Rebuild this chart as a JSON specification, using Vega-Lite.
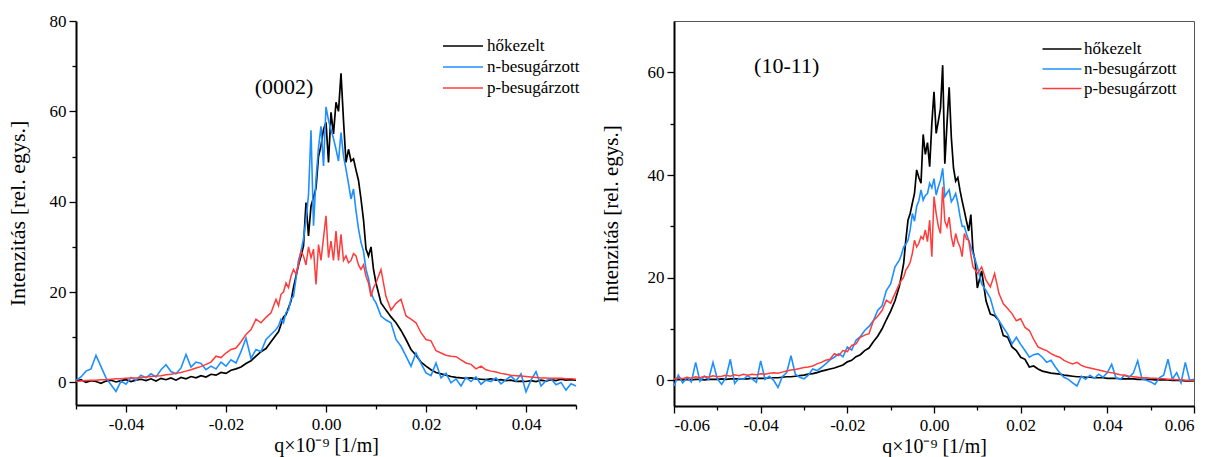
{
"$schema": "https://vega.github.io/schema/vega-lite/v6.json",
"background": "white",
"padding": {"left": 6, "top": 12, "right": 0, "bottom": 0},
"spacing": 19,
"config": {
 "view": {"stroke": null},
 "font": "Liberation Serif",
 "axis": {"labelFont": "Liberation Serif", "titleFont": "Liberation Serif", "labelFontSize": 17, "titleFontSize": 21, "titleFontWeight": "normal", "domain": true, "ticks": true, "domainColor": "#000000", "domainWidth": 2, "tickColor": "#000000", "tickWidth": 1.3, "tickOpacity": 1, "labelColor": "#000000", "titleColor": "#000000", "grid": false},
 "legend": {"labelFont": "Liberation Serif", "labelFontSize": 17, "labelColor": "black", "symbolType": "M-2,0H2", "symbolSize": 400, "symbolStrokeWidth": 1.7, "title": null, "padding": 0, "rowPadding": 2, "labelOffset": 13}
},
"resolve": {"scale": {"color": "independent", "strokeWidth": "independent"}, "legend": {"color": "independent"}},
"datasets": {
"L": [
{"x":-0.050,"h":0.3,"n":0.5,"p":0.2},{"x":-0.049,"h":0.6,"n":1.2,"p":0.3},{"x":-0.048,"h":0.0,"n":2.5,"p":0.4},{"x":-0.047,"h":0.4,"n":3.0,"p":0.5},{"x":-0.046,"h":0.2,"n":6.0,"p":0.5},{"x":-0.045,"h":-0.2,"n":3.5,"p":0.6},{"x":-0.044,"h":0.3,"n":1.0,"p":0.6},{"x":-0.043,"h":0.5,"n":-0.5,"p":0.7},{"x":-0.042,"h":0.1,"n":-2.0,"p":0.8},{"x":-0.041,"h":0.4,"n":0.3,"p":0.8},
{"x":-0.040,"h":0.6,"n":-0.4,"p":0.9},{"x":-0.039,"h":0.2,"n":1.1,"p":1.0},{"x":-0.038,"h":0.5,"n":0.5,"p":1.0},{"x":-0.037,"h":0.7,"n":1.6,"p":1.1},{"x":-0.036,"h":0.4,"n":1.0,"p":1.2},{"x":-0.035,"h":0.8,"n":1.9,"p":1.3},{"x":-0.034,"h":0.3,"n":1.2,"p":1.4},{"x":-0.033,"h":0.9,"n":2.8,"p":1.5},{"x":-0.032,"h":0.6,"n":3.9,"p":1.7},{"x":-0.031,"h":1.0,"n":2.4,"p":1.8},
{"x":-0.030,"h":0.5,"n":1.9,"p":2.0},{"x":-0.029,"h":1.1,"n":3.2,"p":2.2},{"x":-0.028,"h":0.8,"n":6.2,"p":2.5},{"x":-0.027,"h":1.3,"n":3.4,"p":2.8},{"x":-0.026,"h":1.0,"n":4.5,"p":3.2},{"x":-0.025,"h":1.5,"n":4.2,"p":3.5},{"x":-0.024,"h":1.2,"n":2.8,"p":4.0},{"x":-0.023,"h":1.8,"n":3.6,"p":4.5},{"x":-0.022,"h":1.6,"n":3.0,"p":5.8},{"x":-0.021,"h":2.2,"n":4.5,"p":5.5},
{"x":-0.020,"h":2.0,"n":3.6,"p":6.5},{"x":-0.019,"h":2.7,"n":5.0,"p":7.3},{"x":-0.018,"h":3.0,"n":4.3,"p":7.6},{"x":-0.017,"h":3.4,"n":6.8,"p":9.0},{"x":-0.016,"h":4.2,"n":9.8,"p":10.6},{"x":-0.015,"h":4.8,"n":5.3,"p":11.7},{"x":-0.014,"h":5.8,"n":7.3,"p":14.0},{"x":-0.013,"h":6.8,"n":6.8,"p":13.2},{"x":-0.012,"h":7.5,"n":9.5,"p":14.4},{"x":-0.011,"h":9.0,"n":10.6,"p":15.4},
{"x":-0.010,"h":10.5,"n":11.7,"p":18.4},{"x":-0.0095,"h":11.2,"n":12.5,"p":17.0},{"x":-0.0090,"h":12.8,"n":14.0,"p":19.5},{"x":-0.0085,"h":14.5,"n":13.2,"p":20.0},{"x":-0.0080,"h":15.0,"n":15.5,"p":22.0},{"x":-0.0075,"h":16.5,"n":16.0,"p":21.0},{"x":-0.0070,"h":18.0,"n":18.5,"p":23.5},{"x":-0.0065,"h":21.0,"n":19.0,"p":25.0},{"x":-0.0060,"h":23.5,"n":23.0,"p":24.0},{"x":-0.0055,"h":26.0,"n":27.0,"p":26.0},
{"x":-0.0050,"h":28.0,"n":29.0,"p":29.0},{"x":-0.0045,"h":30.2,"n":31.8,"p":28.0},{"x":-0.0040,"h":39.8,"n":36.0,"p":26.0},{"x":-0.0035,"h":32.4,"n":41.5,"p":30.0},{"x":-0.0030,"h":39.0,"n":55.8,"p":27.6},{"x":-0.0025,"h":41.0,"n":34.7,"p":29.5},{"x":-0.0020,"h":43.0,"n":45.0,"p":21.7},{"x":-0.0015,"h":50.0,"n":52.0,"p":30.5},{"x":-0.0010,"h":52.4,"n":56.7,"p":27.0},{"x":-0.0005,"h":56.0,"n":47.9,"p":32.0},
{"x":0.0000,"h":57.6,"n":61.0,"p":36.9},{"x":0.0005,"h":48.7,"n":58.0,"p":27.6},{"x":0.0010,"h":59.8,"n":56.0,"p":31.3},{"x":0.0015,"h":55.0,"n":54.0,"p":27.0},{"x":0.0020,"h":62.0,"n":51.6,"p":33.5},{"x":0.0025,"h":60.0,"n":49.0,"p":27.0},{"x":0.0030,"h":68.4,"n":55.3,"p":32.8},{"x":0.0035,"h":58.0,"n":50.1,"p":27.0},{"x":0.0040,"h":48.7,"n":47.2,"p":28.0},{"x":0.0045,"h":51.6,"n":44.0,"p":26.5},
{"x":0.0050,"h":49.0,"n":40.6,"p":27.0},{"x":0.0055,"h":49.5,"n":42.8,"p":28.5},{"x":0.0060,"h":47.0,"n":38.0,"p":28.0},{"x":0.0065,"h":44.7,"n":34.0,"p":26.0},{"x":0.0070,"h":40.6,"n":31.0,"p":25.0},{"x":0.0075,"h":36.0,"n":29.0,"p":26.0},{"x":0.0080,"h":29.5,"n":25.0,"p":23.5},{"x":0.0085,"h":28.0,"n":23.0,"p":22.0},{"x":0.0090,"h":30.0,"n":19.9,"p":19.0},{"x":0.0095,"h":25.0,"n":18.5,"p":21.0},
{"x":0.010,"h":22.0,"n":17.6,"p":22.0},{"x":0.011,"h":17.6,"n":14.7,"p":25.0},{"x":0.012,"h":16.0,"n":13.8,"p":19.0},{"x":0.013,"h":14.5,"n":13.2,"p":16.0},{"x":0.014,"h":13.2,"n":9.5,"p":17.5},{"x":0.015,"h":11.5,"n":8.0,"p":18.4},{"x":0.016,"h":9.5,"n":5.8,"p":14.7},{"x":0.017,"h":7.3,"n":3.6,"p":14.0},{"x":0.018,"h":6.0,"n":6.5,"p":13.2},{"x":0.019,"h":4.5,"n":4.2,"p":11.0},
{"x":0.020,"h":3.6,"n":2.1,"p":9.5},{"x":0.021,"h":2.8,"n":1.5,"p":9.2},{"x":0.022,"h":2.2,"n":4.3,"p":7.0},{"x":0.023,"h":1.9,"n":1.0,"p":6.5},{"x":0.024,"h":1.6,"n":2.0,"p":6.0},{"x":0.025,"h":1.3,"n":-0.1,"p":5.8},{"x":0.026,"h":1.1,"n":0.8,"p":5.7},{"x":0.027,"h":1.0,"n":-0.8,"p":5.0},{"x":0.028,"h":0.9,"n":1.1,"p":4.3},{"x":0.029,"h":1.0,"n":0.2,"p":4.0},
{"x":0.030,"h":0.8,"n":1.2,"p":3.0},{"x":0.031,"h":0.7,"n":-0.4,"p":3.6},{"x":0.032,"h":0.6,"n":0.5,"p":2.8},{"x":0.033,"h":0.8,"n":0.2,"p":2.5},{"x":0.034,"h":0.5,"n":1.0,"p":2.3},{"x":0.035,"h":0.6,"n":-0.3,"p":2.0},{"x":0.036,"h":0.4,"n":0.6,"p":1.8},{"x":0.037,"h":0.5,"n":1.4,"p":1.6},{"x":0.038,"h":0.2,"n":0.3,"p":1.5},{"x":0.039,"h":0.3,"n":1.9,"p":1.4},
{"x":0.040,"h":0.2,"n":-2.1,"p":1.3},{"x":0.041,"h":0.4,"n":0.5,"p":1.2},{"x":0.042,"h":0.2,"n":2.4,"p":1.1},{"x":0.043,"h":0.5,"n":-0.8,"p":1.0},{"x":0.044,"h":0.3,"n":0.4,"p":1.0},{"x":0.045,"h":0.6,"n":0.8,"p":0.9},{"x":0.046,"h":0.4,"n":-0.5,"p":0.9},{"x":0.047,"h":0.7,"n":0.0,"p":0.9},{"x":0.048,"h":0.5,"n":-1.7,"p":0.8},{"x":0.049,"h":0.6,"n":-0.3,"p":0.8},
{"x":0.050,"h":0.5,"n":-0.8,"p":0.7}
],
"R": [
{"x":-0.060,"h":0.1,"n":-1.1,"p":0.2},{"x":-0.059,"h":0.2,"n":1.0,"p":0.5},{"x":-0.058,"h":0.1,"n":-0.5,"p":0.3},{"x":-0.057,"h":0.2,"n":0.5,"p":0.6},{"x":-0.056,"h":0.1,"n":-0.3,"p":0.4},{"x":-0.055,"h":0.2,"n":3.5,"p":0.7},{"x":-0.054,"h":0.2,"n":-0.2,"p":0.5},{"x":-0.053,"h":0.1,"n":0.8,"p":0.8},{"x":-0.052,"h":0.2,"n":0.2,"p":0.6},{"x":-0.051,"h":0.2,"n":3.5,"p":0.9},
{"x":-0.050,"h":0.2,"n":0.3,"p":0.7},{"x":-0.049,"h":0.3,"n":-0.8,"p":0.8},{"x":-0.048,"h":0.2,"n":0.6,"p":1.0},{"x":-0.047,"h":0.3,"n":4.1,"p":0.8},{"x":-0.046,"h":0.3,"n":-0.6,"p":1.1},{"x":-0.045,"h":0.3,"n":0.4,"p":0.9},{"x":-0.044,"h":0.3,"n":0.2,"p":1.2},{"x":-0.043,"h":0.3,"n":0.9,"p":1.0},{"x":-0.042,"h":0.4,"n":0.3,"p":1.2},{"x":-0.041,"h":0.4,"n":-0.4,"p":1.1},
{"x":-0.040,"h":0.4,"n":3.8,"p":1.3},{"x":-0.039,"h":0.4,"n":0.2,"p":1.2},{"x":-0.038,"h":0.5,"n":0.8,"p":1.4},{"x":-0.037,"h":0.5,"n":0.0,"p":1.5},{"x":-0.036,"h":0.5,"n":-1.4,"p":1.4},{"x":-0.035,"h":0.6,"n":0.7,"p":1.6},{"x":-0.034,"h":0.7,"n":1.5,"p":1.8},{"x":-0.033,"h":0.7,"n":4.8,"p":2.0},{"x":-0.032,"h":0.8,"n":1.2,"p":2.1},{"x":-0.031,"h":0.9,"n":0.6,"p":2.3},
{"x":-0.030,"h":1.0,"n":0.3,"p":2.5},{"x":-0.029,"h":1.2,"n":1.0,"p":2.6},{"x":-0.028,"h":1.3,"n":2.2,"p":2.8},{"x":-0.027,"h":1.5,"n":1.9,"p":3.2},{"x":-0.026,"h":1.8,"n":2.5,"p":3.5},{"x":-0.025,"h":2.0,"n":3.2,"p":3.9},{"x":-0.024,"h":2.2,"n":4.0,"p":4.1},{"x":-0.023,"h":2.4,"n":4.5,"p":5.2},{"x":-0.022,"h":2.7,"n":5.2,"p":4.8},{"x":-0.021,"h":3.0,"n":4.6,"p":5.8},
{"x":-0.020,"h":3.6,"n":6.5,"p":5.6},{"x":-0.019,"h":3.9,"n":5.9,"p":6.8},{"x":-0.018,"h":4.6,"n":7.8,"p":7.1},{"x":-0.017,"h":5.0,"n":8.5,"p":8.4},{"x":-0.016,"h":5.8,"n":9.7,"p":8.8},{"x":-0.015,"h":6.3,"n":10.5,"p":9.1},{"x":-0.014,"h":7.5,"n":11.6,"p":11.6},{"x":-0.013,"h":8.6,"n":13.6,"p":12.5},{"x":-0.012,"h":10.0,"n":14.5,"p":13.6},{"x":-0.011,"h":11.8,"n":17.5,"p":15.6},
{"x":-0.010,"h":13.5,"n":18.8,"p":15.0},{"x":-0.009,"h":15.5,"n":22.1,"p":16.9},{"x":-0.008,"h":18.3,"n":23.4,"p":18.8},{"x":-0.0075,"h":20.5,"n":24.5,"p":19.5},{"x":-0.0070,"h":22.8,"n":26.0,"p":20.1},{"x":-0.0065,"h":27.3,"n":26.5,"p":21.5},{"x":-0.0060,"h":31.2,"n":27.3,"p":22.1},{"x":-0.0055,"h":32.5,"n":29.3,"p":23.0},{"x":-0.0050,"h":34.5,"n":32.5,"p":24.7},{"x":-0.0045,"h":36.4,"n":31.0,"p":27.3},
{"x":-0.0040,"h":41.0,"n":33.9,"p":26.0},{"x":-0.0035,"h":39.5,"n":35.0,"p":26.7},{"x":-0.0030,"h":38.4,"n":37.1,"p":28.0},{"x":-0.0025,"h":47.9,"n":35.1,"p":27.5},{"x":-0.0020,"h":44.0,"n":36.0,"p":29.3},{"x":-0.0015,"h":46.3,"n":36.4,"p":27.0},{"x":-0.0010,"h":41.6,"n":38.4,"p":31.2},{"x":-0.0005,"h":50.0,"n":37.5,"p":24.1},{"x":0.0000,"h":56.2,"n":39.3,"p":35.8},{"x":0.0005,"h":48.1,"n":36.1,"p":32.5},
{"x":0.0010,"h":50.5,"n":37.7,"p":30.0},{"x":0.0015,"h":53.0,"n":39.0,"p":28.6},{"x":0.0020,"h":61.4,"n":41.3,"p":37.7},{"x":0.0025,"h":42.2,"n":35.8,"p":31.0},{"x":0.0030,"h":50.0,"n":36.5,"p":29.9},{"x":0.0035,"h":57.1,"n":37.1,"p":31.8},{"x":0.0040,"h":47.3,"n":34.8,"p":28.0},{"x":0.0045,"h":41.4,"n":35.5,"p":26.0},{"x":0.0050,"h":38.8,"n":36.4,"p":28.6},{"x":0.0055,"h":39.5,"n":34.5,"p":27.0},
{"x":0.0060,"h":37.0,"n":32.0,"p":26.0},{"x":0.0065,"h":34.9,"n":30.0,"p":24.1},{"x":0.0070,"h":33.0,"n":30.0,"p":28.6},{"x":0.0075,"h":31.0,"n":28.5,"p":27.5},{"x":0.0080,"h":29.1,"n":27.3,"p":27.3},{"x":0.0085,"h":32.3,"n":26.0,"p":24.5},{"x":0.0090,"h":25.2,"n":24.7,"p":22.1},{"x":0.0095,"h":23.2,"n":23.5,"p":21.5},{"x":0.010,"h":18.0,"n":22.1,"p":20.8},{"x":0.011,"h":21.3,"n":18.8,"p":22.1},
{"x":0.012,"h":15.5,"n":17.5,"p":19.5},{"x":0.013,"h":12.9,"n":16.0,"p":18.2},{"x":0.014,"h":12.6,"n":13.0,"p":20.8},{"x":0.015,"h":11.6,"n":11.6,"p":16.9},{"x":0.016,"h":8.7,"n":10.3,"p":14.9},{"x":0.017,"h":8.4,"n":9.0,"p":14.0},{"x":0.018,"h":6.5,"n":7.1,"p":13.0},{"x":0.019,"h":5.8,"n":8.4,"p":11.6},{"x":0.020,"h":4.5,"n":7.0,"p":12.0},{"x":0.021,"h":4.1,"n":5.8,"p":10.3},
{"x":0.022,"h":2.6,"n":4.5,"p":9.7},{"x":0.023,"h":2.8,"n":5.0,"p":8.0},{"x":0.024,"h":2.2,"n":5.2,"p":6.5},{"x":0.025,"h":1.8,"n":4.5,"p":6.1},{"x":0.026,"h":1.6,"n":3.5,"p":5.8},{"x":0.027,"h":1.4,"n":3.9,"p":5.2},{"x":0.028,"h":1.3,"n":2.6,"p":4.8},{"x":0.029,"h":1.2,"n":1.5,"p":4.5},{"x":0.030,"h":1.0,"n":0.6,"p":3.9},{"x":0.031,"h":0.9,"n":0.2,"p":3.5},
{"x":0.032,"h":0.8,"n":-0.5,"p":3.2},{"x":0.033,"h":0.7,"n":-1.1,"p":3.5},{"x":0.034,"h":0.7,"n":0.8,"p":2.9},{"x":0.035,"h":0.6,"n":0.2,"p":2.6},{"x":0.036,"h":0.6,"n":1.0,"p":2.4},{"x":0.037,"h":0.5,"n":0.4,"p":2.2},{"x":0.038,"h":0.5,"n":1.2,"p":2.0},{"x":0.039,"h":0.5,"n":0.6,"p":1.8},{"x":0.040,"h":0.4,"n":1.5,"p":1.6},{"x":0.041,"h":0.4,"n":3.1,"p":1.5},
{"x":0.042,"h":0.4,"n":0.5,"p":1.3},{"x":0.043,"h":0.3,"n":0.2,"p":1.1},{"x":0.044,"h":0.3,"n":1.0,"p":1.0},{"x":0.045,"h":0.3,"n":0.6,"p":0.8},{"x":0.046,"h":0.3,"n":1.4,"p":0.7},{"x":0.047,"h":0.2,"n":3.8,"p":0.6},{"x":0.048,"h":0.2,"n":0.3,"p":0.5},{"x":0.049,"h":0.2,"n":0.0,"p":0.5},{"x":0.050,"h":0.2,"n":-0.3,"p":0.4},{"x":0.051,"h":0.1,"n":-0.8,"p":0.4},
{"x":0.052,"h":0.1,"n":0.5,"p":0.3},{"x":0.053,"h":0.1,"n":1.0,"p":0.3},{"x":0.054,"h":0.1,"n":4.1,"p":0.2},{"x":0.055,"h":0.0,"n":0.2,"p":0.2},{"x":0.056,"h":0.0,"n":1.5,"p":0.1},{"x":0.057,"h":0.0,"n":-0.5,"p":0.1},{"x":0.058,"h":-0.1,"n":3.5,"p":0.0},{"x":0.059,"h":-0.1,"n":0.0,"p":0.0},{"x":0.060,"h":-0.1,"n":0.2,"p":-0.1}
]
},
"hconcat": [
{
 "width": 500, "height": 384,
 "resolve": {"axis": {"x": "independent", "y": "independent"}},
 "layer": [
  {
   "data": {"name": "L"},
   "transform": [{"fold": ["h", "n", "p"], "as": ["s", "v"]}],
   "mark": {"type": "line"},
   "encoding": {
    "x": {"field": "x", "type": "quantitative", "scale": {"domain": [-0.05, 0.05], "nice": false, "zero": false},
      "axis": {"orient": "bottom", "title": "q×10⁻⁹ [1/m]", "values": [-0.04,-0.02,0,0.02,0.04], "format": ".2f", "labelExpr": "replace(datum.label, '−', '-')", "ticks": true, "tickSize": 7, "tickColor": "#000000", "tickWidth": 1.3, "labelFont": "Liberation Serif", "titleFont": "Liberation Serif", "labelPadding": 4, "titlePadding": 3, "titleFontSize": 20}},
    "y": {"field": "v", "type": "quantitative", "scale": {"domain": [-5, 80], "nice": false, "zero": false},
      "axis": {"orient": "left", "title": "Intenzitás [rel. egys.]", "values": [0,20,40,60,80], "ticks": true, "tickSize": 7, "tickColor": "#000000", "tickWidth": 1.3, "labelFont": "Liberation Serif", "titleFont": "Liberation Serif", "labelPadding": 3, "titlePadding": 20, "titleFontSize": 22}},
    "color": {"field": "s", "type": "nominal", "scale": {"domain": ["h", "n", "p"], "range": ["#000000", "#1e8fff", "#ff3b3b"]},
      "legend": {"orient": "none", "legendX": 376, "legendY": 14, "labelExpr": "datum.label === 'h' ? 'hőkezelt' : datum.label === 'n' ? 'n-besugárzott' : 'p-besugárzott'"}},
    "strokeWidth": {"field": "s", "type": "nominal", "scale": {"domain": ["h", "n", "p"], "range": [1.7, 1.5, 1.1]}, "legend": null}
   }
  },
  {
   "data": {"values": [{}]},
   "mark": {"type": "text", "text": "(0002)", "font": "Liberation Serif", "fontSize": 22, "color": "black"},
   "encoding": {
    "x": {"datum": -0.0084, "type": "quantitative", "axis": {"orient": "bottom", "values": [-0.05,-0.03,-0.01,0.01,0.03,0.05], "labels": false, "domain": false, "ticks": true, "tickSize": 4, "tickColor": "#000000", "tickWidth": 1.3, "title": null}},
    "y": {"datum": 65.5, "type": "quantitative", "axis": {"orient": "left", "values": [10,30,50,70], "labels": false, "domain": false, "ticks": true, "tickSize": 4, "tickColor": "#000000", "tickWidth": 1.3, "title": null}}
   }
  }
 ]
},
{
 "width": 520, "height": 385,
 "view": {"stroke": "#555555", "strokeWidth": 1},
 "resolve": {"axis": {"x": "independent", "y": "independent"}},
 "layer": [
  {
   "data": {"name": "R"},
   "transform": [{"fold": ["h", "n", "p"], "as": ["s", "v"]}],
   "mark": {"type": "line"},
   "encoding": {
    "x": {"field": "x", "type": "quantitative", "scale": {"domain": [-0.06, 0.06], "nice": false, "zero": false},
      "axis": {"orient": "bottom", "title": "q×10⁻⁹ [1/m]", "values": [-0.06,-0.04,-0.02,0,0.02,0.04,0.06], "format": ".2f", "labelExpr": "replace(datum.label, '−', '-')", "ticks": true, "tickSize": 7, "tickColor": "#000000", "tickWidth": 1.3, "labelFont": "Liberation Serif", "titleFont": "Liberation Serif", "labelPadding": 4, "titlePadding": 3, "titleFontSize": 20}},
    "y": {"field": "v", "type": "quantitative", "scale": {"domain": [-5, 70], "nice": false, "zero": false},
      "axis": {"orient": "left", "title": "Intenzitás [rel. egys.]", "values": [0,20,40,60], "ticks": true, "tickSize": 7, "tickColor": "#000000", "tickWidth": 1.3, "labelFont": "Liberation Serif", "titleFont": "Liberation Serif", "labelPadding": 3, "titlePadding": 26, "titleFontSize": 21}},
    "color": {"field": "s", "type": "nominal", "scale": {"domain": ["h", "n", "p"], "range": ["#000000", "#1e8fff", "#ff3b3b"]},
      "legend": {"orient": "none", "legendX": 377, "legendY": 17, "symbolSize": 380, "rowPadding": 1, "labelOffset": 11, "labelExpr": "datum.label === 'h' ? 'hőkezelt' : datum.label === 'n' ? 'n-besugárzott' : 'p-besugárzott'"}},
    "strokeWidth": {"field": "s", "type": "nominal", "scale": {"domain": ["h", "n", "p"], "range": [1.7, 1.5, 1.1]}, "legend": null}
   }
  },
  {
   "data": {"values": [{}]},
   "mark": {"type": "text", "text": "(10-11)", "font": "Liberation Serif", "fontSize": 22, "color": "black"},
   "encoding": {
    "x": {"datum": -0.034, "type": "quantitative", "axis": {"orient": "bottom", "values": [-0.05,-0.03,-0.01,0.01,0.03,0.05], "labels": false, "domain": false, "ticks": true, "tickSize": 4, "tickColor": "#000000", "tickWidth": 1.3, "title": null}},
    "y": {"datum": 61.2, "type": "quantitative", "axis": {"orient": "left", "values": [10,30,50], "labels": false, "domain": false, "ticks": true, "tickSize": 4, "tickColor": "#000000", "tickWidth": 1.3, "title": null}}
   }
  }
 ]
}
]
}
